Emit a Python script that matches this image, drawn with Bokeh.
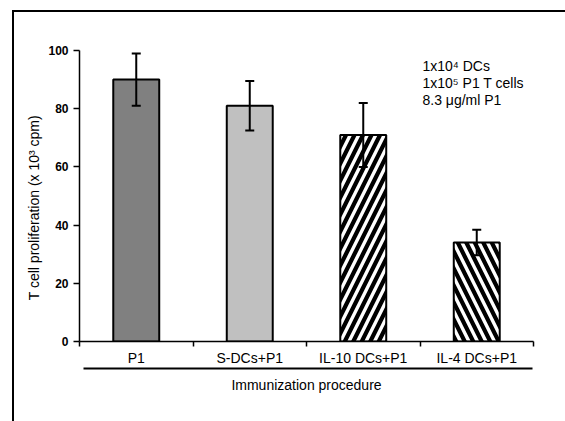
from bokeh.core.properties import value
from bokeh.embed import file_html
from bokeh.layouts import column
from bokeh.models import (ColumnDataSource, Div, FixedTicker, LinearAxis, Range1d,
                          TeeHead, Whisker)
from bokeh.plotting import figure
from bokeh.resources import INLINE

# --- data -------------------------------------------------------------------
categories = ["P1", "S-DCs+P1", "IL-10 DCs+P1", "IL-4 DCs+P1"]
proliferation = [90.0, 81.0, 71.0, 34.0]      # x 10^3 cpm
error = [9.0, 8.5, 11.0, 4.4]
y_ticks = [0, 20, 40, 60, 80, 100]
conditions = ["1x10\u2074 DCs", "1x10\u2075 P1 T cells", "8.3 \u03bcg/ml P1"]

# --- styling ----------------------------------------------------------------
FONT = "Liberation Sans"
fills = ["#808080", "#c0c0c0", "#ffffff", "#ffffff"]
hatches = [" ", " ", "/", "\\"]

W, H = 565, 421
LEFT, RIGHT, TOP, BOTTOM = 79, 32, 50, 80
n = len(categories)
Y_MAX = 100

frame_w = W - LEFT - RIGHT
frame_h = H - TOP - BOTTOM


def px_to_x(px):
    """Canvas x pixel -> data x."""
    return (px - LEFT) / frame_w * n


def px_to_y(py):
    """Canvas y pixel (from top) -> data y."""
    return (H - BOTTOM - py) / frame_h * Y_MAX


centers = [i + 0.5 for i in range(n)]
lower = [v - e for v, e in zip(proliferation, error)]
upper = [v + e for v, e in zip(proliferation, error)]

src = ColumnDataSource(dict(x=centers, top=proliferation, lower=lower,
                            upper=upper, fill=fills, hatch=hatches))

p = figure(width=W, height=H, x_range=Range1d(0, n), y_range=Range1d(0, Y_MAX),
           x_axis_type=None, y_axis_type=None,
           output_backend="svg", toolbar_location=None,
           min_border_left=LEFT, min_border_right=RIGHT,
           min_border_top=TOP, min_border_bottom=BOTTOM)
p.outline_line_color = None
p.background_fill_color = "white"
p.border_fill_color = "white"

# bars
p.vbar(x="x", top="top", bottom=0, width=0.405, source=src,
       fill_color="fill", line_color="black", line_width=2,
       hatch_pattern="hatch", hatch_color="black",
       hatch_scale=17, hatch_weight=4.2)

# error bars, drawn over the bars
p.add_layout(Whisker(source=src, base="x", upper="upper", lower="lower",
                     level="overlay", line_color="black", line_width=2,
                     upper_head=TeeHead(size=9, line_width=2, line_color="black"),
                     lower_head=TeeHead(size=9, line_width=2, line_color="black")))

# y axis (title padded at its end so it sits a little below the frame centre)
yax = LinearAxis(ticker=FixedTicker(ticks=y_ticks),
                 axis_label="T cell proliferation (x 10\u00b3 cpm)" + "\u00a0" * 6,
                 axis_label_standoff=3,
                 axis_label_text_font=FONT, axis_label_text_font_size="14px",
                 axis_label_text_font_style="normal", axis_label_text_color="black",
                 major_tick_in=0, major_tick_out=6,
                 minor_tick_in=0, minor_tick_out=0,
                 axis_line_width=1.5, major_tick_line_width=1.5,
                 major_label_standoff=5,
                 major_label_text_font=FONT, major_label_text_font_style="bold",
                 major_label_text_font_size="12px", major_label_text_color="black")
p.add_layout(yax, "left")

# x axis: category labels, tick marks on category boundaries
xax = LinearAxis(ticker=FixedTicker(ticks=centers, minor_ticks=list(range(n + 1))),
                 major_label_overrides={c: lab for c, lab in zip(centers, categories)},
                 major_tick_in=0, major_tick_out=5, major_tick_line_color=None,
                 minor_tick_in=0, minor_tick_out=5,
                 minor_tick_line_color="black", minor_tick_line_width=1.5,
                 axis_line_width=1.5, major_label_standoff=3,
                 major_label_text_font=FONT, major_label_text_font_size="14px",
                 major_label_text_color="black")
p.add_layout(xax, "below")

# rule under the category labels, carrying the axis title
xax2 = LinearAxis(ticker=FixedTicker(ticks=[]), bounds=(px_to_x(82.7), px_to_x(531.5)),
                  axis_line_width=2, axis_line_color="black",
                  major_tick_in=0, major_tick_out=0, minor_tick_in=0, minor_tick_out=0,
                  major_label_standoff=0,
                  axis_label="Immunization procedure", axis_label_standoff=8,
                  axis_label_text_font=FONT, axis_label_text_font_size="14px",
                  axis_label_text_font_style="normal", axis_label_text_color="black")
p.add_layout(xax2, "below")

# experimental conditions
note_src = ColumnDataSource(dict(
    x=[px_to_x(422)] * len(conditions),
    y=[px_to_y(65 + 17 * i) for i in range(len(conditions))],
    text=conditions))
p.text(x="x", y="y", text="text", source=note_src,
       text_font=value(FONT), text_font_size="14px", text_color="black",
       text_align="left", text_baseline="middle")

# chart-area border: top and left edges, laid over the canvas
BX, BY, EDGE = 7, 5, 2
frame_box = Div(text="", width=W - BX - EDGE, height=H - BY - EDGE,
                styles={"position": "absolute", "left": f"{BX}px", "top": f"{BY}px",
                        "box-sizing": "content-box", "pointer-events": "none",
                        "border-left": f"{EDGE}px solid black",
                        "border-top": f"{EDGE}px solid black"})

page = column(p, frame_box, spacing=0)

open("out.html", "w").write(file_html(page, INLINE))
